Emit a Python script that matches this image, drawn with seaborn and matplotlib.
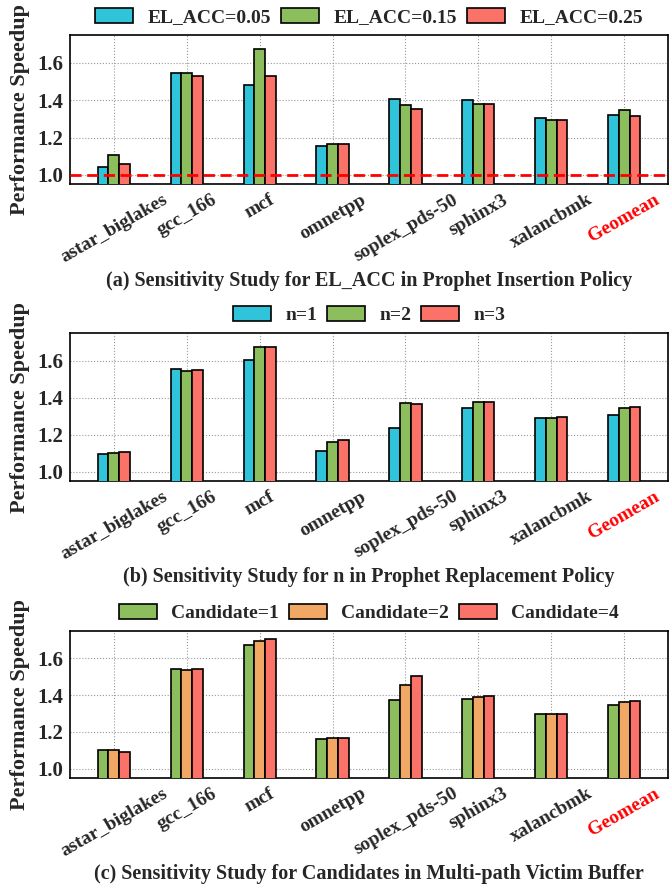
import matplotlib
matplotlib.use("Agg")
import matplotlib.pyplot as plt
import seaborn as sns
import pandas as pd

benchmarks = ["astar_biglakes", "gcc_166", "mcf", "omnetpp", "soplex_pds-50",
              "sphinx3", "xalancbmk", "Geomean"]

# Panel (a)
a_labels = ["EL_ACC=0.05", "EL_ACC=0.15", "EL_ACC=0.25"]
a_005 = [1.041, 1.544, 1.483, 1.157, 1.407, 1.404, 1.305, 1.321]
a_015 = [1.105, 1.548, 1.677, 1.164, 1.375, 1.378, 1.297, 1.348]
a_025 = [1.059, 1.532, 1.532, 1.164, 1.355, 1.378, 1.292, 1.317]

# Panel (b)
b_labels = ["n=1", "n=2", "n=3"]
b_n1 = [1.095, 1.557, 1.604, 1.115, 1.237, 1.347, 1.293, 1.305]
b_n2 = [1.102, 1.544, 1.675, 1.162, 1.374, 1.379, 1.293, 1.345]
b_n3 = [1.108, 1.548, 1.675, 1.174, 1.365, 1.379, 1.296, 1.350]

# Panel (c)
c_labels = ["Candidate=1", "Candidate=2", "Candidate=4"]
c_1 = [1.104, 1.544, 1.674, 1.162, 1.374, 1.378, 1.295, 1.347]
c_2 = [1.104, 1.537, 1.693, 1.165, 1.454, 1.390, 1.298, 1.361]
c_4 = [1.093, 1.541, 1.708, 1.167, 1.507, 1.396, 1.298, 1.368]

titles = ["(a) Sensitivity Study for EL_ACC in Prophet Insertion Policy",
          "(b) Sensitivity Study for n in Prophet Replacement Policy",
          "(c) Sensitivity Study for Candidates in Multi-path Victim Buffer"]

CYAN = "#30C4DA"
GREEN = "#8DBE5E"
RED = "#FA7268"
ORANGE = "#F2A865"

sns.set_style("white")
plt.rcParams["font.family"] = ["Liberation Serif", "DejaVu Serif"]
plt.rcParams["font.weight"] = "bold"

fig = plt.figure(figsize=(6.72, 8.86), dpi=100)

panels = [
    (a_labels, [a_005, a_015, a_025], [CYAN, GREEN, RED], [0.792, 0.9605], 886 - 281),
    (b_labels, [b_n1, b_n2, b_n3], [CYAN, GREEN, RED], [0.457, 0.624], 886 - 577),
    (c_labels, [c_1, c_2, c_4], [GREEN, ORANGE, RED], [0.122, 0.288], 886 - 874),
]

for i, (labels, series, colors, (bot, top), title_y) in enumerate(panels):
    ax = fig.add_axes([70 / 672, bot, (668 - 70) / 672, top - bot])
    rows = []
    for lab, vals in zip(labels, series):
        for b, v in zip(benchmarks, vals):
            rows.append({"bench": b, "config": lab, "speedup": v})
    df = pd.DataFrame(rows)
    sns.barplot(data=df, x="bench", y="speedup", hue="config", order=benchmarks,
                hue_order=labels, palette=colors, width=0.44, gap=0,
                edgecolor="black", linewidth=1.2, saturation=1, ax=ax, zorder=3)
    ax.set_ylim(0.95, 1.75)
    ax.set_xlim(-0.6, 7.6)
    ax.set_yticks([1.0, 1.2, 1.4, 1.6])
    ax.set_yticklabels(["1.0", "1.2", "1.4", "1.6"], fontsize=15, fontweight="bold")
    ax.set_xticks(range(len(benchmarks)))
    ax.set_xticklabels(benchmarks, rotation=30, ha="center", fontsize=14,
                       fontweight="bold")
    ax.get_xticklabels()[-1].set_color("red")
    ax.tick_params(axis="both", length=3, width=1, direction="out", pad=2)
    ax.grid(True, linestyle=":", color="#999999", linewidth=0.8, zorder=0)
    ax.set_axisbelow(True)
    for s in ax.spines.values():
        s.set_color("black")
        s.set_linewidth(1.2)
    ax.set_xlabel("")
    ax.set_ylabel("Performance Speedup", fontsize=16, fontweight="bold", labelpad=5)
    if i == 0:
        ax.axhline(1.0, color="red", linestyle=(0, (4, 2)), linewidth=2, zorder=4)
    handles, hlabels = ax.get_legend_handles_labels()
    if ax.get_legend() is not None:
        ax.get_legend().remove()
    ax.legend(handles, hlabels, loc="lower center", bbox_to_anchor=(0.5, 1.0),
              ncol=3, frameon=False, handlelength=1.95,
              handleheight=0.85, handletextpad=0.75, columnspacing=0.5,
              borderaxespad=0.05, prop={"weight": "bold", "size": 14})
    fig.text(0.5 * (70 + 668) / 672, title_y / 886, titles[i], ha="center",
             va="center", fontsize=14.5, fontweight="bold")

fig.savefig("out.png", dpi=100)
